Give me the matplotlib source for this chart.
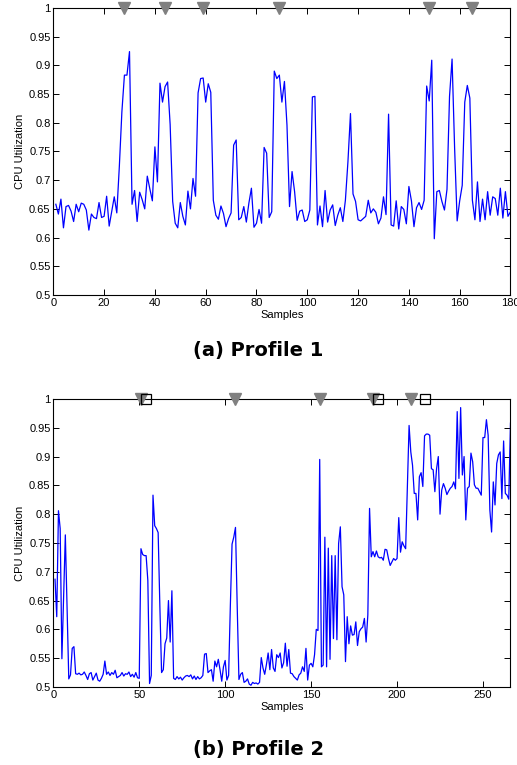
import matplotlib
matplotlib.use('Agg')
import matplotlib.pyplot as plt
import numpy as np

# Profile 1 (samples 1..180)
cpu1 = [0.658, 0.641, 0.667, 0.617, 0.654, 0.656, 0.646, 0.628, 0.658, 0.645,
        0.660, 0.658, 0.648, 0.613, 0.641, 0.635, 0.633, 0.661, 0.635, 0.637,
        0.672, 0.620, 0.645, 0.671, 0.643, 0.724, 0.819, 0.883, 0.883, 0.924,
        0.658, 0.682, 0.628, 0.679, 0.666, 0.650, 0.707, 0.685, 0.664, 0.758,
        0.697, 0.869, 0.836, 0.863, 0.871, 0.797, 0.663, 0.625, 0.617, 0.661,
        0.637, 0.622, 0.681, 0.650, 0.703, 0.672, 0.852, 0.877, 0.878, 0.836,
        0.868, 0.853, 0.665, 0.639, 0.632, 0.655, 0.642, 0.619, 0.633, 0.643,
        0.761, 0.770, 0.631, 0.635, 0.654, 0.627, 0.660, 0.686, 0.618, 0.625,
        0.649, 0.625, 0.757, 0.747, 0.635, 0.645, 0.890, 0.877, 0.883, 0.836,
        0.872, 0.796, 0.654, 0.715, 0.680, 0.630, 0.646, 0.648, 0.628, 0.631,
        0.648, 0.845, 0.846, 0.622, 0.655, 0.619, 0.682, 0.627, 0.648, 0.657,
        0.621, 0.639, 0.652, 0.628, 0.665, 0.732, 0.816, 0.676, 0.663, 0.631,
        0.629, 0.633, 0.637, 0.665, 0.643, 0.650, 0.644, 0.624, 0.634, 0.671,
        0.640, 0.815, 0.622, 0.620, 0.664, 0.615, 0.654, 0.649, 0.624, 0.689,
        0.664, 0.619, 0.652, 0.661, 0.649, 0.665, 0.864, 0.838, 0.909, 0.598,
        0.680, 0.682, 0.663, 0.648, 0.684, 0.846, 0.911, 0.756, 0.629, 0.664,
        0.691, 0.836, 0.865, 0.843, 0.665, 0.631, 0.697, 0.628, 0.667, 0.631,
        0.680, 0.639, 0.671, 0.668, 0.639, 0.686, 0.634, 0.680, 0.637, 0.645]
marks1 = [28, 44, 59, 89, 148, 165]

# Profile 2 (samples 1..266)
cpu2 = [0.687, 0.622, 0.806, 0.775, 0.549, 0.660, 0.764, 0.640, 0.514, 0.521,
        0.567, 0.570, 0.523, 0.522, 0.524, 0.521, 0.522, 0.526, 0.520, 0.513,
        0.523, 0.525, 0.512, 0.518, 0.524, 0.512, 0.510, 0.515, 0.522, 0.545,
        0.522, 0.526, 0.520, 0.525, 0.522, 0.529, 0.516, 0.518, 0.520, 0.525,
        0.519, 0.523, 0.522, 0.526, 0.518, 0.522, 0.517, 0.525, 0.516, 0.515,
        0.740, 0.730, 0.728, 0.728, 0.685, 0.506, 0.520, 0.833, 0.780, 0.775,
        0.768, 0.640, 0.525, 0.530, 0.575, 0.585, 0.650, 0.578, 0.667, 0.515,
        0.513, 0.518, 0.514, 0.517, 0.512, 0.516, 0.519, 0.520, 0.518, 0.521,
        0.514, 0.519, 0.513, 0.518, 0.514, 0.516, 0.520, 0.557, 0.558, 0.525,
        0.528, 0.530, 0.510, 0.545, 0.535, 0.548, 0.530, 0.510, 0.535, 0.546,
        0.512, 0.520, 0.640, 0.748, 0.760, 0.777, 0.640, 0.513, 0.522, 0.525,
        0.508, 0.510, 0.514, 0.505, 0.503, 0.508, 0.506, 0.507, 0.505, 0.508,
        0.551, 0.533, 0.522, 0.539, 0.559, 0.530, 0.565, 0.533, 0.527, 0.556,
        0.551, 0.559, 0.533, 0.542, 0.576, 0.536, 0.565, 0.524, 0.523, 0.518,
        0.515, 0.512, 0.521, 0.524, 0.535, 0.527, 0.567, 0.512, 0.538, 0.541,
        0.535, 0.556, 0.600, 0.598, 0.895, 0.535, 0.538, 0.760, 0.535, 0.741,
        0.548, 0.728, 0.584, 0.728, 0.582, 0.749, 0.778, 0.674, 0.660, 0.544,
        0.622, 0.575, 0.606, 0.590, 0.591, 0.613, 0.572, 0.596, 0.601, 0.604,
        0.619, 0.578, 0.625, 0.810, 0.726, 0.735, 0.726, 0.736, 0.726, 0.724,
        0.725, 0.720, 0.739, 0.738, 0.723, 0.711, 0.717, 0.723, 0.720, 0.723,
        0.794, 0.734, 0.752, 0.745, 0.740, 0.845, 0.954, 0.908, 0.885, 0.836,
        0.836, 0.790, 0.865, 0.872, 0.848, 0.936, 0.939, 0.939, 0.937, 0.879,
        0.877, 0.839, 0.879, 0.900, 0.800, 0.842, 0.853, 0.845, 0.834, 0.840,
        0.845, 0.848, 0.856, 0.844, 0.978, 0.862, 0.985, 0.868, 0.900, 0.790,
        0.845, 0.848, 0.906, 0.891, 0.851, 0.845, 0.845, 0.839, 0.833, 0.933,
        0.933, 0.964, 0.937, 0.807, 0.769, 0.856, 0.816, 0.888, 0.903, 0.908,
        0.827, 0.927, 0.836, 0.833, 0.826, 0.958]
marks2 = [51, 106, 155, 186, 208]
squares2 = [54, 189, 216]

yticks = [0.5, 0.55, 0.6, 0.65, 0.7, 0.75, 0.8, 0.85, 0.9, 0.95, 1.0]
ytick_labels = ['0.5', '0.55', '0.6', '0.65', '0.7', '0.75', '0.8', '0.85', '0.9', '0.95', '1']

plt.rcParams['font.family'] = ['Liberation Sans', 'DejaVu Sans']


def draw_profile(ax, y, xmax, xticks, marks, squares):
    x = np.arange(1, len(y) + 1)
    ax.plot(x, y, color='#0000ff', linewidth=0.9)
    ax.plot(marks, [1.0] * len(marks), linestyle='none', marker='v', markersize=9,
            color='#808080', clip_on=False, zorder=5)
    if squares:
        ax.plot(squares, [1.0] * len(squares), linestyle='none', marker='s', markersize=7,
                markerfacecolor='none', markeredgecolor='black', markeredgewidth=0.9,
                clip_on=False, zorder=6)
    ax.set_xlim(0, xmax)
    ax.set_ylim(0.5, 1.0)
    ax.set_xticks(xticks)
    ax.set_yticks(yticks)
    ax.set_yticklabels(ytick_labels)
    ax.tick_params(direction='in', length=4, width=0.7, labelsize=8,
                   top=True, right=True, pad=2)
    for s in ax.spines.values():
        s.set_linewidth(0.8)
    ax.set_xlabel('Samples', fontsize=8, labelpad=1.5)
    ax.set_ylabel('CPU Utilization', fontsize=8, labelpad=3)


fig = plt.figure(figsize=(5.17, 7.65), dpi=100)
ax1 = fig.add_axes([0.1031, 0.6144, 0.8843, 0.3752])
draw_profile(ax1, cpu1, 180, range(0, 181, 20), marks1, [])
fig.text(0.5, 1 - 351 / 765, '(a) Profile 1', ha='center', va='center',
         fontsize=14, fontweight='bold', family='DejaVu Sans')

ax2 = fig.add_axes([0.1031, 0.1020, 0.8843, 0.3765])
draw_profile(ax2, cpu2, 266, range(0, 266, 50), marks2, squares2)
fig.text(0.5, 1 - 749 / 765, '(b) Profile 2', ha='center', va='center',
         fontsize=14, fontweight='bold', family='DejaVu Sans')

fig.savefig('out.png', dpi=100)
